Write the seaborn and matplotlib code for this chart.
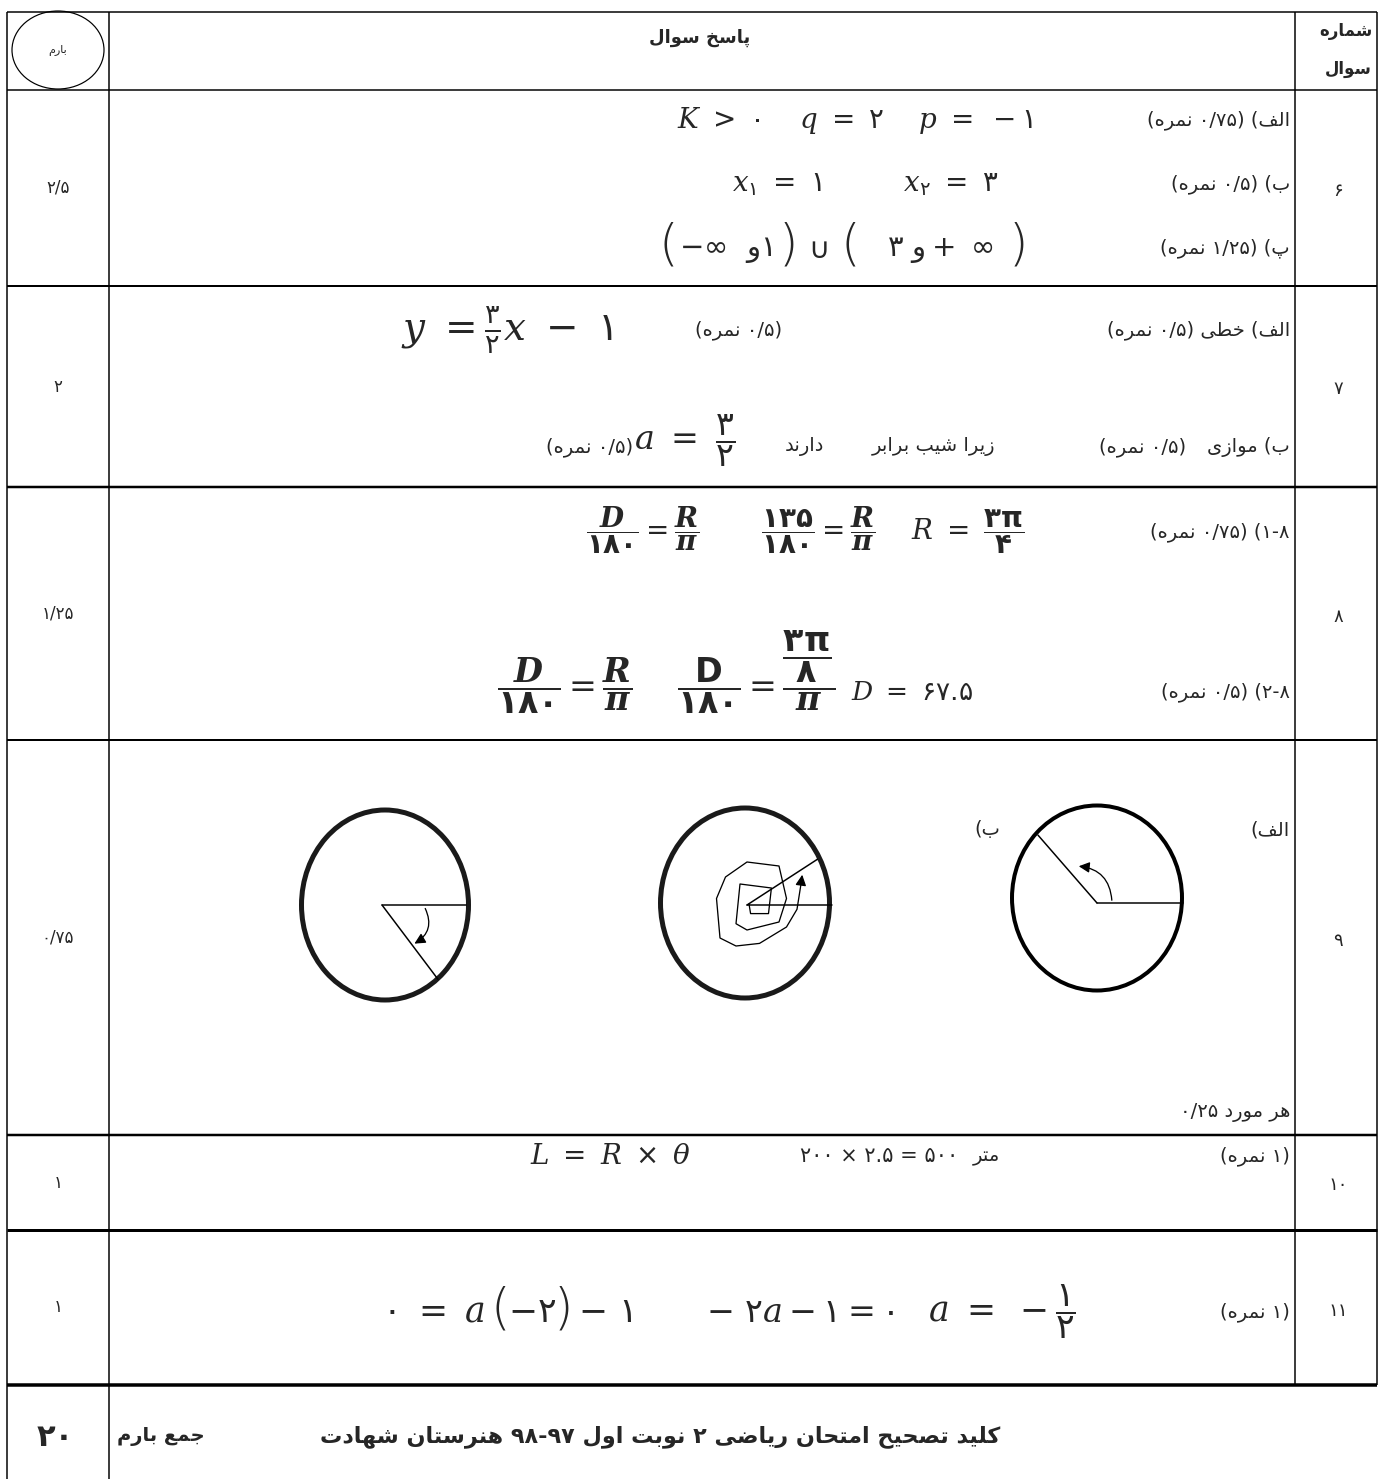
import matplotlib
matplotlib.use("Agg")
import matplotlib.pyplot as plt
import seaborn as sns
import numpy as np
from matplotlib.patches import Ellipse, FancyArrowPatch

# ---- content -------------------------------------------------------------
question_ids = ["۶", "۷", "۸", "۹", "۱۰", "۱۱"]
question_marks = ["۲/۵", "۲", "۱/۲۵", "۰/۷۵", "۱", "۱"]
total_mark = "۲۰"

header_answer = "پاسخ سوال"
header_number = ["شماره", "سوال"]
header_mark = "بارم"

q6_labels = ["الف) (۰/۷۵ نمره)", "ب) (۰/۵ نمره)", "پ) (۱/۲۵ نمره)"]
q6_math = [r"$K\ >\ ۰\quad\ q\ =\ ۲\quad\ p\ =\ -۱$",
           r"$x_{۱}\ =\ ۱\qquad\quad x_{۲}\ =\ ۳$"]
# interval answer, written piece by piece so the brackets can be tall
q6_interval = ["(", r"$-\infty\ \ \mathrm{و}۱$", ")", r"$\cup$", "(",
               r"$۳\ \mathrm{و}+\ \infty$", ")"]

q7_labels = ["الف) خطی (۰/۵ نمره)", "(۰/۵ نمره)"]
q7_reason = ["ب) موازی", "(۰/۵ نمره)", "زیرا شیب برابر", "دارند", "(۰/۵ نمره)"]
q7_math = [r"$y\ =\frac{۳}{۲}x\ -\ ۱$", r"$a\ =\ \dfrac{۳}{۲}$"]

q8_labels = ["۸-۱) (۰/۷۵ نمره)", "۸-۲) (۰/۵ نمره)"]
q8_math = [r"$\dfrac{\mathbfit{D}}{\mathbf{۱۸۰}}=\dfrac{\mathbfit{R}}{\mathbfit{π}}"
           r"\qquad\ \dfrac{\mathbf{۱۳۵}}{\mathbf{۱۸۰}}=\dfrac{\mathbfit{R}}{\mathbfit{π}}"
           r"\quad\ R\ =\ \dfrac{\mathbf{۳π}}{\mathbf{۴}}$",
           r"$\dfrac{\mathbfit{D}}{\mathbf{۱۸۰}}=\dfrac{\mathbfit{R}}{\mathbfit{π}}"
           r"\quad\ \dfrac{\mathbf{D}}{\mathbf{۱۸۰}}=\dfrac{\dfrac{\mathbf{۳π}}{\mathbf{۸}}}{\mathbfit{π}}$",
           r"$D\ =\ ۶۷.۵$"]

q9_labels = ["الف)", "ب)", "هر مورد ۰/۲۵"]
# circles: right (الف), middle (ب), left
circle_x = [1097, 745, 385]
circle_y = [898, 903, 905]
circle_w = [170, 169, 167]
circle_h = [185, 190, 190]
arm_angles = [[0, 131], [0, 33], [0, -53]]   # degrees, anticlockwise
arm_lengths = [[86, 90], [85, 84], [84, 93]]
# hand drawn spiral in the middle circle, offsets from its centre
spiral_dx = [2, 3.6, 21.5, 24.4, -7, -11, 0, 32, 39.5, 32, 0, -21.5, -30.5, -27, -11, 12.5, 39.5, 50, 54, 55.6]
spiral_dy = [-1, 8.6, 8.6, -17, -21, 18.7, 25, 17, -6.5, -39, -43, -28, -6.5, 33, 41, 38.4, 22, 4.3, -21, -33]

q10_labels = ["(۱ نمره)", "متر"]
q10_calc = "۲۰۰ × ۲.۵ = ۵۰۰"
q10_math = r"$L\ =\ R\ \times\ \theta$"

q11_labels = ["(۱ نمره)"]
q11_math = [r"$۰\ =\ a$", "(", r"$-۲$", ")", r"$-\ ۱$",
            r"$-\ ۲a-۱=۰$", r"$a\ =\ -\dfrac{۱}{۲}$"]

total_labels = ["جمع بارم", "کلید تصحیح امتحان ریاضی ۲ نوبت اول ۹۷-۹۸ هنرستان شهادت"]

# ---- minimal Persian shaping (presentation forms + visual order) ---------
RIGHT_JOIN = {"ا": (0xFE8D, 0xFE8E), "آ": (0xFE81, 0xFE82), "د": (0xFEA9, 0xFEAA),
              "ذ": (0xFEAB, 0xFEAC), "ر": (0xFEAD, 0xFEAE), "ز": (0xFEAF, 0xFEB0),
              "ژ": (0xFB8A, 0xFB8B), "و": (0xFEED, 0xFEEE)}
DUAL_JOIN = {"ب": 0xFE8F, "ت": 0xFE95, "ث": 0xFE99, "ج": 0xFE9D, "ح": 0xFEA1,
             "خ": 0xFEA5, "س": 0xFEB1, "ش": 0xFEB5, "ص": 0xFEB9, "ض": 0xFEBD,
             "ط": 0xFEC1, "ظ": 0xFEC5, "ع": 0xFEC9, "غ": 0xFECD, "ف": 0xFED1,
             "ق": 0xFED5, "ل": 0xFEDD, "م": 0xFEE1, "ن": 0xFEE5, "ه": 0xFEE9,
             "پ": 0xFB56, "چ": 0xFB7A, "ک": 0xFB8E, "گ": 0xFB92, "ی": 0xFBFC}
DIGITS = set("۰۱۲۳۴۵۶۷۸۹0123456789")
MIRROR = {"(": ")", ")": "("}


def shape(s):
    out = []
    for i, c in enumerate(s):
        if c not in DUAL_JOIN and c not in RIGHT_JOIN:
            out.append(c)
            continue
        prev = s[i - 1] if i > 0 else ""
        nxt = s[i + 1] if i + 1 < len(s) else ""
        jp = prev in DUAL_JOIN
        jn = c in DUAL_JOIN and (nxt in DUAL_JOIN or nxt in RIGHT_JOIN)
        if c in RIGHT_JOIN:
            out.append(chr(RIGHT_JOIN[c][1 if jp else 0]))
        else:
            out.append(chr(DUAL_JOIN[c] + (3 if jp and jn else 1 if jp else 2 if jn else 0)))
    return "".join(out)


def fa(s):
    t = shape(s)
    runs = []
    i = 0
    while i < len(t):
        j = i
        if t[i] in DIGITS:
            while j < len(t) and (t[j] in DIGITS or
                                  (t[j] in "./" and j + 1 < len(t) and t[j + 1] in DIGITS)):
                j += 1
            runs.append(t[i:j])
        else:
            while j < len(t) and t[j] not in DIGITS:
                j += 1
            runs.append("".join(MIRROR.get(ch, ch) for ch in reversed(t[i:j])))
        i = j
    return "".join(reversed(runs))


# ---- style ---------------------------------------------------------------
sns.set_theme(style="white")
plt.rcParams["font.family"] = ["DejaVu Sans"]
plt.rcParams["mathtext.fontset"] = "custom"
plt.rcParams["mathtext.rm"] = "DejaVu Sans"
plt.rcParams["mathtext.it"] = "DejaVu Serif:italic"
plt.rcParams["mathtext.bf"] = "DejaVu Sans:bold"
plt.rcParams["mathtext.bfit"] = "DejaVu Serif:italic:bold"

fig = plt.figure(figsize=(13.79, 14.79), dpi=100)
ax = fig.add_axes([0, 0, 1, 1])
ax.set_xlim(0, 1379)
ax.set_ylim(1479, 0)
ax.axis("off")

PX = 0.72  # points per pixel

# ---- table grid ----------------------------------------------------------
row_edges = [12, 90, 286, 487, 740, 1135, 1230, 1385]
row_widths = [1.5, 1.5, 2, 2.5, 2, 2.5, 3, 3.5]
for y, w in zip(row_edges, row_widths):
    ax.hlines(y, 7, 1377, color="black", lw=w * PX)
ax.vlines([7, 109], 12, 1479, color="black", lw=1.5 * PX)
ax.vlines([1295, 1377], 12, 1385, color="black", lw=1.5 * PX)

# header
ax.add_patch(Ellipse((58, 50), 92, 78, fill=False, lw=1.2 * PX, color="black"))
ax.text(58, 50, fa(header_mark), fontsize=8, ha="center", va="center")
ax.text(700, 38, fa(header_answer), fontsize=13, ha="center", va="center", fontweight="bold")
ax.text(1372, 31, fa(header_number[0]), fontsize=12, ha="right", va="center", fontweight="bold")
ax.text(1372, 69, fa(header_number[1]), fontsize=12, ha="right", va="center", fontweight="bold")

# number and mark columns
for k in range(len(question_ids)):
    yc = (row_edges[k + 1] + row_edges[k + 2]) / 2
    ax.text(1338, yc + 3, fa(question_ids[k]), fontsize=13, ha="center", va="center")
    ax.text(58, yc, fa(question_marks[k]), fontsize=12, ha="center", va="center")


def ptext(x, y, s, size=14, ha="right", **kw):
    ax.text(x, y, fa(s), fontsize=size, ha=ha, va="center", **kw)


def mtext(x, y, s, size=20, ha="center"):
    ax.text(x, y, s, fontsize=size, ha=ha, va="center")


def bracket(x, y, s, size=36):
    ax.text(x, y, s, fontsize=size, ha="center", va="center", fontweight="ultralight")


# question 6
for lab, y in zip(q6_labels, [120, 184, 248]):
    ptext(1290, y, lab)
mtext(855, 120, q6_math[0], 20)
mtext(865, 184, q6_math[1], 20)
interval_x = [668, 726, 788, 818, 850, 940, 1018]
for piece, x in zip(q6_interval, interval_x):
    if piece in "()":
        bracket(x, 246, piece)
    else:
        mtext(x, 250, piece, 21)

# question 7
ptext(1290, 330, q7_labels[0])
ptext(782, 330, q7_labels[1])
mtext(507, 330, q7_math[0], 28)
for piece, x in zip(q7_reason, [1290, 1186, 995, 824, 633]):
    ptext(x, 447, piece)
mtext(634, 441, q7_math[1], 24, ha="left")

# question 8
ptext(1290, 532, q8_labels[0])
mtext(805, 530, q8_math[0], 20)
ptext(1290, 692, q8_labels[1])
mtext(666, 672, q8_math[1], 24)
mtext(912, 693, q8_math[2], 19)

# question 9
ptext(1290, 830, q9_labels[0])
ptext(1000, 830, q9_labels[1])
ptext(1290, 1113, q9_labels[2])
edge_lw = [4 * PX, 5 * PX, 5 * PX]
edge_col = ["black", "#1a1a1a", "#1a1a1a"]
arm_cx = [1097, 747, 382]
arm_cy = [903, 905, 905]
for k in range(3):
    ax.add_patch(Ellipse((circle_x[k], circle_y[k]), circle_w[k], circle_h[k],
                         fill=False, lw=edge_lw[k], color=edge_col[k]))
    for ang, ln in zip(arm_angles[k], arm_lengths[k]):
        a = np.deg2rad(ang)
        ax.plot([arm_cx[k], arm_cx[k] + ln * np.cos(a)],
                [arm_cy[k], arm_cy[k] - ln * np.sin(a)], color="black", lw=1.5 * PX)

ax.add_patch(FancyArrowPatch((1112, 903), (1076, 866), connectionstyle="arc3,rad=0.45",
                             arrowstyle="-|>", mutation_scale=16, lw=1.3 * PX, color="black"))
ax.add_patch(FancyArrowPatch((424, 906), (412, 945), connectionstyle="arc3,rad=-0.5",
                             arrowstyle="-|>", mutation_scale=16, lw=1.3 * PX, color="black"))
sx = [arm_cx[1] + d for d in spiral_dx]
sy = [arm_cy[1] + d for d in spiral_dy]
ax.plot(sx[:-1], sy[:-1], color="black", lw=1.3 * PX)
ax.annotate("", xy=(sx[-1], sy[-1]), xytext=(sx[-2], sy[-2]),
            arrowprops=dict(arrowstyle="-|>", mutation_scale=16, lw=1.3 * PX, color="black"))

# question 10
ptext(1290, 1156, q10_labels[0])
ptext(1000, 1156, q10_labels[1])
ax.text(958, 1156, q10_calc, fontsize=15, ha="right", va="center")
mtext(610, 1156, q10_math, 20)

# question 11
ptext(1290, 1312, q11_labels[0])
bracket(500, 1309, q11_math[1])
bracket(563, 1309, q11_math[3])
mtext(485, 1312, q11_math[0], 25, ha="right")
mtext(532, 1312, q11_math[2], 25)
mtext(578, 1312, q11_math[4], 25, ha="left")
mtext(800, 1312, q11_math[5], 24)
mtext(928, 1312, q11_math[6], 25, ha="left")

# total row
ax.text(55, 1437, fa(total_mark), fontsize=22, ha="center", va="center", fontweight="bold")
ptext(205, 1437, total_labels[0], 14, fontweight="bold")
ptext(1000, 1437, total_labels[1], 16, fontweight="bold")

fig.savefig("out.png", dpi=100, facecolor="white")
